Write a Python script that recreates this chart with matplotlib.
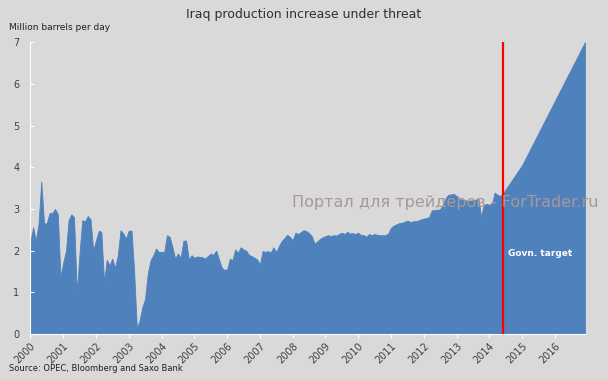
import numpy as np
import pandas as pd
import matplotlib
matplotlib.use("Agg")
from matplotlib import pyplot as plt

# monthly production, million barrels per day (Jan 2000 - Jun 2014)
prod_2000 = [2.25, 2.56, 2.24, 2.65, 3.66, 2.65, 2.66, 2.90, 2.90, 3.00, 2.88, 1.37]
prod_2001 = [1.72, 2.00, 2.73, 2.87, 2.80, 1.00, 1.93, 2.73, 2.70, 2.83, 2.75, 2.00]
prod_2002 = [2.25, 2.48, 2.45, 1.25, 1.78, 1.65, 1.81, 1.59, 1.89, 2.49, 2.41, 2.29]
prod_2003 = [2.48, 2.48, 1.53, 0.14, 0.32, 0.64, 0.84, 1.45, 1.77, 1.89, 2.05, 1.97]
prod_2004 = [1.97, 1.97, 2.37, 2.33, 2.09, 1.81, 1.93, 1.83, 2.24, 2.24, 1.79, 1.89]
prod_2005 = [1.83, 1.86, 1.85, 1.84, 1.81, 1.87, 1.93, 1.90, 2.00, 1.80, 1.60, 1.54]
prod_2006 = [1.55, 1.81, 1.77, 2.03, 1.95, 2.08, 2.03, 2.00, 1.90, 1.87, 1.83, 1.79]
prod_2007 = [1.67, 1.99, 1.97, 1.99, 1.95, 2.08, 1.97, 2.11, 2.23, 2.30, 2.38, 2.33]
prod_2008 = [2.25, 2.43, 2.40, 2.44, 2.49, 2.47, 2.42, 2.35, 2.17, 2.22, 2.28, 2.32]
prod_2009 = [2.35, 2.37, 2.35, 2.37, 2.36, 2.40, 2.43, 2.40, 2.45, 2.41, 2.42, 2.40]
prod_2010 = [2.43, 2.37, 2.38, 2.33, 2.40, 2.37, 2.40, 2.38, 2.37, 2.37, 2.37, 2.41]
prod_2011 = [2.55, 2.60, 2.63, 2.66, 2.67, 2.69, 2.72, 2.69, 2.70, 2.71, 2.72, 2.75]
prod_2012 = [2.77, 2.78, 2.81, 2.97, 2.97, 2.98, 2.99, 3.10, 3.26, 3.34, 3.35, 3.36]
prod_2013 = [3.31, 3.25, 3.22, 3.21, 3.20, 3.20, 3.21, 3.22, 3.26, 2.82, 3.10, 3.12]
prod_2014 = [3.10, 3.14, 3.39, 3.34, 3.31, 3.37]

# government target path
target_dates = ["2014-06-01", "2015-01-01", "2016-12-01"]
target_values = [3.37, 4.05, 7.0]

years = list(range(2000, 2017))

production = (prod_2000 + prod_2001 + prod_2002 + prod_2003 + prod_2004 + prod_2005 +
              prod_2006 + prod_2007 + prod_2008 + prod_2009 + prod_2010 + prod_2011 +
              prod_2012 + prod_2013 + prod_2014)
dates = pd.date_range("2000-01-01", periods=len(production), freq="MS")
tdates = pd.to_datetime(target_dates)

bg = "#d9d9d9"
blue = "#4f81bd"

fig = plt.figure(figsize=(6.08, 3.8), dpi=100, facecolor=bg)
ax = fig.add_axes([0.050, 0.121, 0.912, 0.768], facecolor=bg)

ax.fill_between(dates, production, 0, color=blue, linewidth=0.6, edgecolor=blue)
ax.fill_between(tdates, target_values, 0, color=blue, linewidth=0.6, edgecolor=blue)

# start of target period
ax.axvline(pd.Timestamp("2014-06-01"), color="#ff0000", linewidth=1.6)

ax.set_xlim(pd.Timestamp("2000-01-01"), pd.Timestamp("2016-12-01"))
ax.set_ylim(0, 7)

ax.set_yticks(range(0, 8))
xt = [pd.Timestamp(f"{y}-01-01") for y in years]
ax.set_xticks(xt)
ax.set_xticklabels([str(y) for y in years], rotation=45, ha="right",
                   rotation_mode="anchor", fontsize=7, color="#404040")
ax.tick_params(axis="y", labelsize=7, labelcolor="#404040", length=3,
               color="white", direction="in", pad=8)
ax.tick_params(axis="x", length=3, color="white", direction="out", pad=2)

for s in ["top", "right"]:
    ax.spines[s].set_visible(False)
ax.spines["left"].set_color("white")
ax.spines["bottom"].set_color("white")

fig.text(0.5, 0.963, "Iraq production increase under threat", ha="center",
         va="center", fontsize=9, color="#303030")
fig.text(0.015, 0.927, "Million barrels per day", ha="left", va="center",
         fontsize=6.5, color="#202020")
fig.text(0.015, 0.03, "Source: OPEC, Bloomberg and Saxo Bank", ha="left",
         va="center", fontsize=6, color="#202020")

fig.text(0.836, 0.333, "Govn. target", ha="left", va="center", fontsize=6.5,
         color="white", fontweight="bold")
fig.text(0.48, 0.468, "Портал для трейдеров - ForTrader.ru", ha="left",
         va="center", fontsize=11.5, color="#a89896")

plt.savefig("out.png", dpi=100, facecolor=bg)
